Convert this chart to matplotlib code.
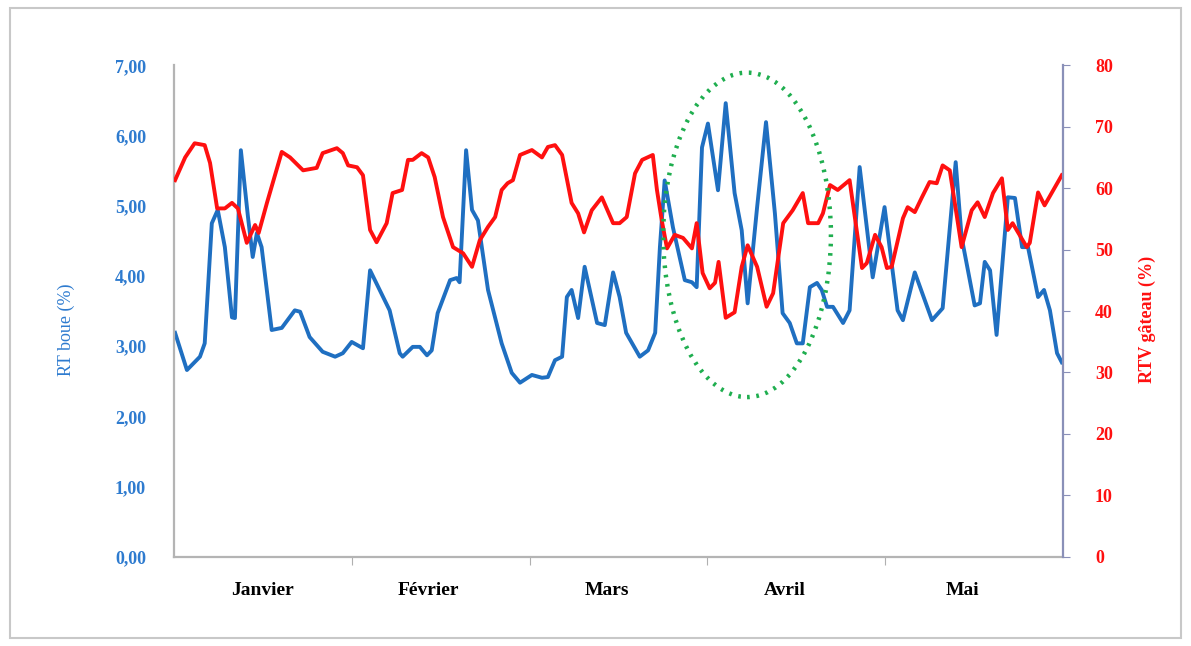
import matplotlib.pyplot as plt
from matplotlib.patches import Ellipse, Rectangle

# day index (0 = start of January) and readings
blue_days = [0.2, 2.2, 4.4, 5.2, 6.4, 7.4, 8.6, 9.8, 10.3, 11.3, 12.5, 13.3, 14.0, 14.8,
             16.5, 18.2, 20.4, 21.3, 22.9, 25.1, 27.2, 28.5, 30.0, 31.9, 33.1, 36.4,
             38.1, 38.6, 40.3, 41.5, 42.7, 43.5, 44.5, 46.6, 47.7, 48.2, 49.3, 50.3,
             51.3, 53.0, 55.3, 57.0, 58.4, 60.4, 62.1, 63.1, 64.3, 65.5, 66.3, 67.1,
             68.2, 69.3, 71.4, 72.7, 74.1, 75.2, 76.3, 78.6, 80.0, 81.2, 82.0, 82.8,
             84.2, 86.2, 87.4, 88.2, 89.1, 90.1, 91.8, 93.1, 94.6, 95.8, 96.8, 98.4,
             99.9, 101.4, 102.7, 103.9, 105.1, 106.1, 107.3, 108.5, 109.3, 110.2,
             111.2, 112.9, 114.0, 115.7, 117.9, 119.9, 122.1, 123.0, 125.0, 127.9,
             129.7, 131.9, 132.9, 135.1, 136.0, 136.8, 137.7, 138.8, 140.7, 141.9,
             143.1, 144.1, 145.8, 146.8, 147.8, 149.0, 149.8]
rt_boue = [3.19, 2.66, 2.85, 3.04, 4.75, 4.94, 4.41, 3.41, 3.40, 5.79, 4.84, 4.27, 4.61, 4.41,
           3.23, 3.26, 3.51, 3.49, 3.13, 2.92, 2.85, 2.90, 3.06, 2.97, 4.08, 3.51,
           2.90, 2.85, 2.99, 2.99, 2.87, 2.94, 3.47, 3.94, 3.97, 3.91, 5.79, 4.94,
           4.79, 3.80, 3.04, 2.62, 2.48, 2.59, 2.55, 2.56, 2.80, 2.85, 3.70, 3.80,
           3.40, 4.13, 3.33, 3.30, 4.05, 3.70, 3.19, 2.85, 2.94, 3.19, 4.41, 5.36,
           4.69, 3.94, 3.91, 3.84, 5.83, 6.17, 5.22, 6.46, 5.18, 4.65, 3.61, 4.98,
           6.19, 4.89, 3.47, 3.33, 3.04, 3.04, 3.84, 3.90, 3.80, 3.56,
           3.56, 3.33, 3.51, 5.55, 3.98, 4.98, 3.51, 3.37, 4.05, 3.37,
           3.54, 5.62, 4.55, 3.58, 3.61, 4.20, 4.08, 3.16, 5.12, 5.11,
           4.41, 4.41, 3.70, 3.80, 3.51, 2.90, 2.77]

red_days = [0.2, 1.9, 3.5, 5.2, 6.1, 7.3, 8.6, 9.8, 10.8, 12.3, 13.7, 14.3, 15.7, 18.2,
            19.6, 21.8, 24.1, 25.1, 27.5, 28.5, 29.4, 30.9, 31.9, 33.1, 34.2, 35.9,
            36.9, 38.5, 39.5, 40.3, 41.8, 42.9, 44.0, 45.4, 47.1, 48.8, 50.3, 51.6,
            53.0, 54.2, 55.3, 56.3, 57.2, 58.4, 60.4, 62.1, 63.1, 64.3, 65.5, 67.1,
            68.2, 69.2, 70.5, 72.2, 74.1, 75.2, 76.4, 77.8, 79.0, 80.8, 81.5, 82.3,
            83.2, 84.5, 85.9, 87.4, 88.2, 89.2, 90.4, 91.3, 91.9, 93.1, 94.6, 95.8,
            96.8, 98.4, 100.0, 101.1, 102.8, 104.4, 106.1, 107.0, 108.7, 109.5, 110.7,
            112.0, 114.0, 116.1, 116.9, 118.3, 119.4, 120.3, 121.1, 123.0, 123.8,
            125.0, 126.2, 127.5, 128.7, 129.7, 130.9, 132.9, 134.6, 135.6, 136.8,
            138.2, 139.7, 140.7, 141.5, 143.9, 144.4, 145.8, 146.9, 149.8]
rtv_gateau = [61.3, 65.0, 67.3, 67.0, 64.1, 56.7, 56.7, 57.6, 56.7, 51.1, 54.0, 52.7, 57.6, 65.9,
              65.0, 62.9, 63.3, 65.7, 66.5, 65.7, 63.7, 63.4, 62.1, 53.2, 51.2, 54.3,
              59.2, 59.7, 64.6, 64.6, 65.7, 65.0, 61.8, 55.3, 50.4, 49.4, 47.2, 51.5,
              53.7, 55.3, 59.7, 60.8, 61.3, 65.4, 66.2, 65.0, 66.7, 67.0, 65.4, 57.6,
              55.9, 52.8, 56.4, 58.5, 54.3, 54.3, 55.3, 62.4, 64.6, 65.4, 59.7, 54.8,
              50.2, 52.4, 51.9, 50.2, 54.3, 46.2, 43.7, 44.6, 48.0, 38.9, 39.8, 47.2,
              50.7, 47.2, 40.7, 42.9, 54.3, 56.4, 59.2, 54.3, 54.3, 55.9, 60.5,
              59.7, 61.3, 47.0, 47.8, 52.4, 50.4, 47.0, 47.2, 55.1, 56.9,
              56.1, 58.5, 61.0, 60.8, 63.7, 62.9, 50.4, 56.4, 57.7, 55.3,
              59.2, 61.6, 53.2, 54.3, 50.4, 51.1, 59.3, 57.2, 62.1]

months = ['Janvier', 'Février', 'Mars', 'Avril', 'Mai']
month_edges = [0, 30, 60, 90, 120, 150]
left_ticks = [0, 1, 2, 3, 4, 5, 6, 7]
right_ticks = [0, 10, 20, 30, 40, 50, 60, 70, 80]

BLUE = '#1f6fc1'
BLUE_TXT = '#2e7bcf'
RED = '#ff1010'
SERIF = 'Liberation Serif'

fig = plt.figure(figsize=(11.91, 6.46), dpi=100)
fig.patches.append(Rectangle((0.008, 0.012), 0.984, 0.976, transform=fig.transFigure,
                             fill=False, edgecolor='#c8c8c8', linewidth=1.5))

ax = fig.add_axes([0.146, 0.138, 0.7465, 0.761])
ax2 = ax.twinx()

ax.plot(blue_days, rt_boue, color=BLUE, linewidth=2.8, solid_joinstyle='round')
ax2.plot(red_days, rtv_gateau, color=RED, linewidth=2.8, solid_joinstyle='round')

ax.set_xlim(0, 150)
ax.set_ylim(0, 7)
ax2.set_ylim(0, 80)

# month boundaries as ticks, month names placed in between (a little left of centre)
ax.set_xticks(month_edges[1:-1])
ax.set_xticklabels([])
label_pos = [(a + b) / 2 - (0 if i == 0 else 2)
             for i, (a, b) in enumerate(zip(month_edges[:-1], month_edges[1:]))]
ax.set_xticks(label_pos, minor=True)
ax.set_xticklabels(months, minor=True, fontfamily=SERIF, fontweight='bold', fontsize=14)
ax.tick_params(axis='x', which='major', length=6, color='#b0b0b0', direction='out')
ax.tick_params(axis='x', which='minor', length=0, pad=18)

ax.set_yticks(left_ticks)
ax.set_yticklabels([f'{v:.2f}'.replace('.', ',') for v in left_ticks],
                   fontfamily=SERIF, fontweight='bold', fontsize=13, color=BLUE_TXT)
ax.tick_params(axis='y', length=0, pad=20)

ax2.set_yticks(right_ticks)
ax2.set_yticklabels([str(v) for v in right_ticks], fontfamily=SERIF, fontweight='bold',
                    fontsize=13, color=RED)
ax2.tick_params(axis='y', length=5, color='#8a90b8', pad=18)

for a in (ax, ax2):
    a.spines['top'].set_visible(False)
ax.spines['left'].set_color('#b4b4b4')
ax.spines['bottom'].set_color('#b4b4b4')
ax.spines['right'].set_visible(False)
ax2.spines['left'].set_visible(False)
ax2.spines['bottom'].set_visible(False)
ax2.spines['right'].set_color('#8a90b8')
for s in ('left', 'bottom'):
    ax.spines[s].set_linewidth(1.6)
ax2.spines['right'].set_linewidth(1.6)

fig.text(0.056, 0.49, 'RT boue (%)', rotation=90, ha='center', va='center',
         fontfamily=SERIF, fontsize=13, color=BLUE_TXT)
fig.text(0.963, 0.505, 'RTV gâteau (%)', rotation=90, ha='center', va='center',
         fontfamily=SERIF, fontweight='bold', fontsize=13, color=RED)

# highlighted April period
ax2.add_patch(Ellipse((96.7, 52.4), 28.3, 52.8, fill=False, edgecolor='#1fae4f',
                      linewidth=3.2, linestyle=(0, (0.6, 1.5)), zorder=5))

fig.savefig('out.png', dpi=100)
